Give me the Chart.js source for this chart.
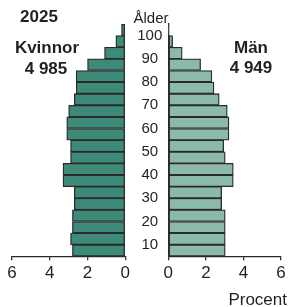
<!DOCTYPE html>
<html lang="sv">
<head>
<meta charset="utf-8">
<title>Befolkningspyramid 2025</title>
<script src="https://cdn.jsdelivr.net/npm/chart.js@4.4.1/dist/chart.umd.min.js"></script>
<style>
  html, body { margin: 0; padding: 0; background: #fff; }
  #wrap { position: relative; width: 290px; height: 307px; overflow: hidden;
          font-family: "Liberation Sans", Arial, sans-serif; color: #231f20; }
  canvas { position: absolute; top: 0; }
  #women { left: 0; }
  #men { left: 131px; }
  .lbl { position: absolute; line-height: 1; white-space: nowrap; transform: translate(-50%, -50%); }
  .b { font-weight: bold; font-size: 17px; }
</style>
</head>
<body>
<div id="wrap">
  <canvas id="women" width="131" height="307"></canvas>
  <canvas id="men" width="159" height="307"></canvas>
  <div class="lbl b" style="left:39px;top:16px">2025</div>
  <div class="lbl b" style="left:47px;top:47px">Kvinnor</div>
  <div class="lbl b" style="left:46px;top:68px">4&nbsp;985</div>
  <div class="lbl b" style="left:251px;top:47px">Män</div>
  <div class="lbl b" style="left:251px;top:67px">4&nbsp;949</div>
  <div class="lbl" style="left:151px;top:17px;font-size:15px">Ålder</div>
  <div class="lbl" style="left:287px;top:299px;font-size:17px;transform:translate(-100%,-50%)">Procent</div>
</div>
<script>
// age groups, top to bottom (lower bound of each 5-year group)
const ageGroups = ["100+", "95–99", "90–94", "85–89", "80–84", "75–79", "70–74",
  "65–69", "60–64", "55–59", "50–54", "45–49", "40–44", "35–39", "30–34",
  "25–29", "20–24", "15–19", "10–14", "5–9"];
const ageStart = [100, 95, 90, 85, 80, 75, 70, 65, 60, 55, 50, 45, 40, 35, 30, 25, 20, 15, 10, 5];

// share of population, percent
const women = [0.2, 0.5, 1.1, 2.0, 2.6, 2.6, 2.7, 3.0, 3.1, 3.1,
  2.9, 2.9, 3.3, 3.3, 2.7, 2.7, 2.8, 2.8, 2.9, 2.8];
const men = [0.02, 0.23, 0.74, 1.72, 2.32, 2.43, 2.71, 3.14, 3.23, 3.23,
  2.95, 3.03, 3.46, 3.46, 2.84, 2.84, 3.03, 3.03, 3.03, 3.03];

const ageTicks = [10, 20, 30, 40, 50, 60, 70, 80, 90, 100];
const percentTicks = [0, 2, 4, 6];

const ink = "#2a2a2a";
const fontFamily = '"Liberation Sans", Arial, sans-serif';
Chart.defaults.font.family = fontFamily;
Chart.defaults.color = "#231f20";

function points(values) {
  // bar sits in the middle of its 5-year group
  return values.map((v, i) => ({ x: v, y: ageStart[i] + 2.5, group: ageGroups[i] }));
}

function pyramidSide(canvasId, values, color, isLeft) {
  const ctx = document.getElementById(canvasId).getContext("2d");
  return new Chart(ctx, {
    type: "bar",
    data: {
      datasets: [{
        data: points(values),
        backgroundColor: color,
        borderColor: ink,
        borderWidth: 1.3,
        borderSkipped: false,
        barPercentage: 1,
        categoryPercentage: 1
      }]
    },
    options: {
      indexAxis: "y",
      responsive: false,
      animation: false,
      layout: {
        padding: isLeft
          ? { left: 12, right: 5.7, top: 24, bottom: 20.3 }
          : { left: 0, right: 9, top: 24, bottom: 20.3 }
      },
      plugins: { legend: { display: false }, tooltip: { enabled: false } },
      scales: {
        x: {
          type: "linear",
          reverse: isLeft,
          min: 0,
          max: 6,
          afterBuildTicks: (s) => { s.ticks = percentTicks.map((v) => ({ value: v })); },
          grid: { drawOnChartArea: false, drawTicks: true, tickLength: 4, color: ink, lineWidth: 1.3 },
          border: { display: true, color: ink, width: 1.3 },
          ticks: { padding: 3, maxRotation: 0, font: { size: 17 }, color: "#231f20" }
        },
        y: {
          type: "linear",
          position: "left",
          min: 5,
          max: 105,
          offset: false,
          display: !isLeft,
          afterBuildTicks: (s) => { s.ticks = ageTicks.map((v) => ({ value: v })); },
          afterFit: (s) => { if (!isLeft) s.width = 37.3; },
          grid: { display: false, drawTicks: false, offset: false },
          border: { display: true, color: ink, width: 1.3 },
          ticks: { crossAlign: "center", padding: 6, font: { size: 15 }, color: "#231f20" }
        }
      }
    }
  });
}

pyramidSide("women", women, "#3c8a77", true);
pyramidSide("men", men, "#8cbaaa", false);
</script>
</body>
</html>
